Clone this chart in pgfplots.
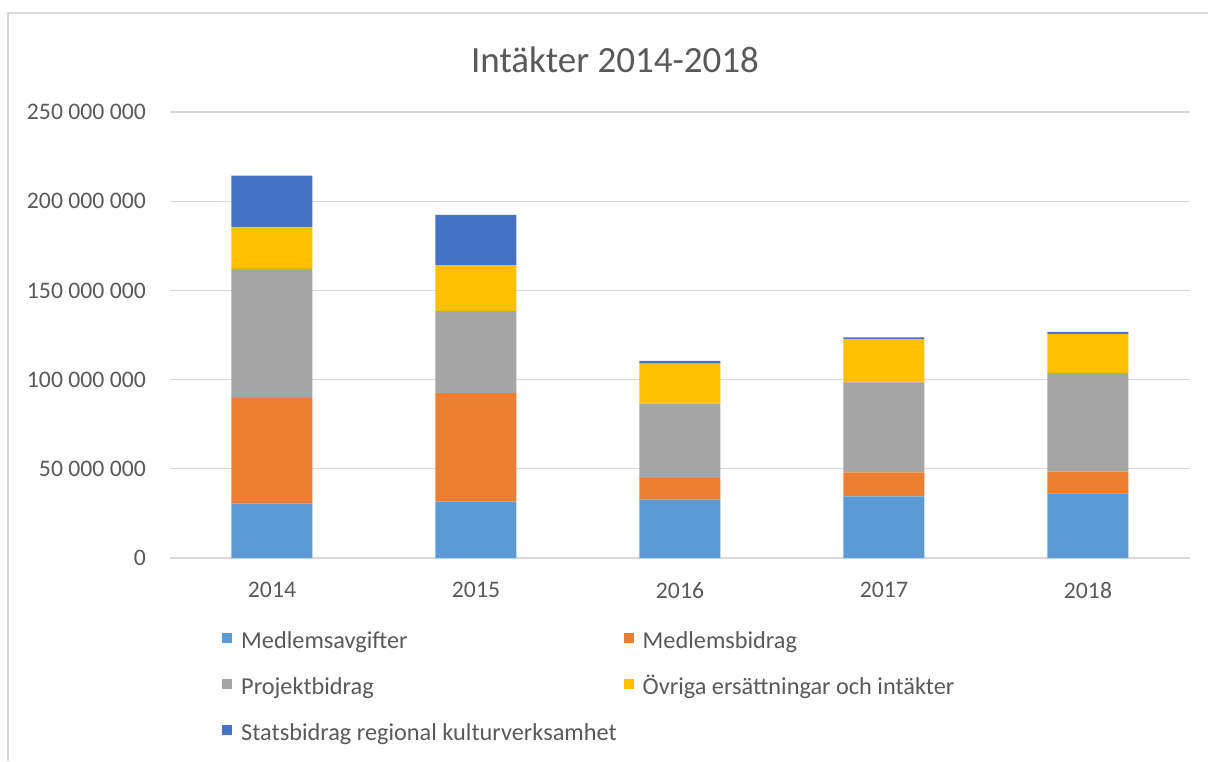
\documentclass[border=0pt]{standalone}
\usepackage{pgfplots}
\pgfplotsset{compat=1.18}
\usepackage{fontspec}
\setmainfont{Carlito}
\definecolor{cA}{HTML}{5B9BD5}
\definecolor{cB}{HTML}{ED7D31}
\definecolor{cC}{HTML}{A5A5A5}
\definecolor{cD}{HTML}{FFC000}
\definecolor{cE}{HTML}{4472C4}
\definecolor{txt}{HTML}{595959}
\definecolor{grd}{HTML}{D9D9D9}
\begin{document}
\begin{tikzpicture}[x=1pt,y=1pt]
\path[use as bounding box] (0,0) rectangle (1208,761);
\draw[grd, line width=1.3pt] (8,0) -- (8,748) -- (1208,748);
\node[font=\fontsize{37}{44}\selectfont, text=txt] at (615,701) {Intäkter 2014-2018};
\begin{axis}[
  at={(170pt,203pt)}, anchor=south west,
  width=1020pt, height=446pt, scale only axis,
  ybar stacked, bar width=81pt,
  xmin=-0.5, xmax=4.5, ymin=0, ymax=250,
  xtick={0,1,2,3,4},
  xticklabels={2014,2015,2016,2017,2018},
  ytick={0,50,100,150,200,250},
  yticklabels={0,50 000 000,100 000 000,150 000 000,200 000 000,250 000 000},
  major tick length=0pt,
  axis line style={draw=none},
  ymajorgrids, major grid style={grd, line width=1.2pt},
  tick label style={font=\fontsize{23.7}{28}\selectfont, text=txt},
  yticklabel style={inner sep=0pt, xshift=-24pt},
  xticklabel style={inner sep=0pt, yshift=-24pt},
  legend columns=2,
  legend style={at={(0,0)}, anchor=north west, xshift=52pt, yshift=-73pt,
    draw=none, fill=none, inner sep=0pt, font=\fontsize{24.3}{28}\selectfont, text=txt,
    nodes={inner sep=0pt, text height=17pt, text depth=5pt, anchor=west},
    row sep=24pt,
    /tikz/every odd column/.append style={column sep=9pt},
    /tikz/every even column/.append style={column sep=7pt}},
  legend cell align=left,
  legend image code/.code={\fill[#1] (0pt,-1pt) rectangle (10pt,9pt);},
  every axis plot/.append style={draw=none},
]
\addplot[fill=cA] coordinates {(0,30.5) (1,31.6) (2,32.7) (3,34.5) (4,36.2)};
\addplot[fill=cB] coordinates {(0,59.3) (1,60.8) (2,12.1) (3,13.5) (4,12.2)};
\addplot[fill=cC] coordinates {(0,72.2) (1,46.1) (2,41.8) (3,50.4) (4,55.2)};
\addplot[fill=cD] coordinates {(0,23.6) (1,25.6) (2,22.4) (3,24.2) (4,22.0)};
\addplot[fill=cE] coordinates {(0,28.7) (1,28.2) (2,1.5) (3,1.1) (4,1.2)};
\legend{Medlemsavgifter,Medlemsbidrag,Projektbidrag,Övriga ersättningar och intäkter,Statsbidrag regional kulturverksamhet}
\end{axis}
\end{tikzpicture}
\end{document}
